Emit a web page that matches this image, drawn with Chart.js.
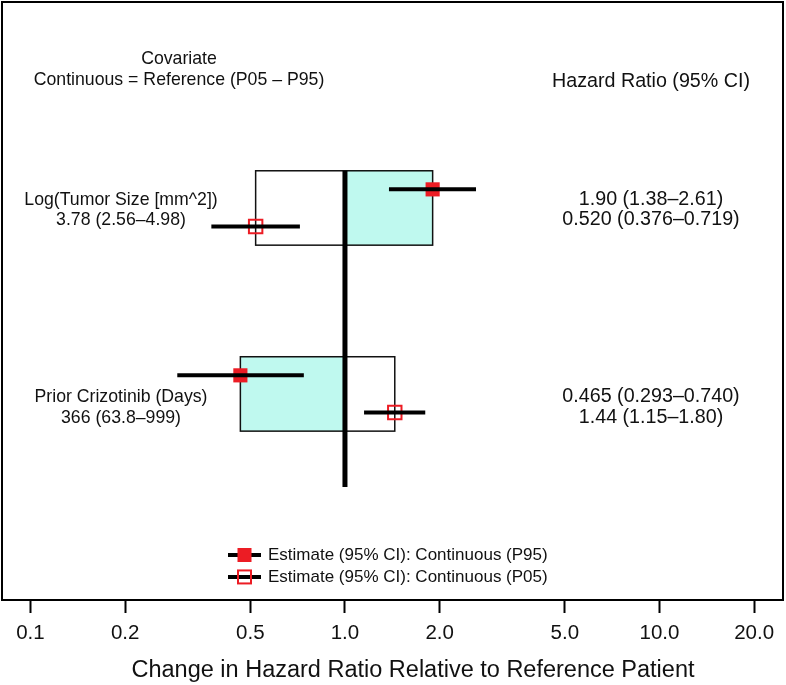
<!DOCTYPE html>
<html>
<head>
<meta charset="utf-8">
<script src="https://cdn.jsdelivr.net/npm/chart.js@4.4.1/dist/chart.umd.min.js"></script>
<style>
  html, body { margin: 0; padding: 0; background: #fff; }
  #wrap { width: 786px; height: 685px; }
</style>
</head>
<body>
<div id="wrap"><canvas id="forest" width="786" height="685"></canvas></div>
<script>
// forest plot: hazard ratio change, P95 vs P05 of each continuous covariate

const covariates = ["Log(Tumor Size [mm^2])", "Prior Crizotinib (Days)"];
const referenceText = ["3.78 (2.56\u20134.98)", "366 (63.8\u2013999)"];
const rows = [1, 2];

const p95Est = [1.90, 0.465];
const p95Lo = [1.38, 0.293];
const p95Hi = [2.61, 0.740];

const p05Est = [0.520, 1.44];
const p05Lo = [0.376, 1.15];
const p05Hi = [0.719, 1.80];

const xTicks = [0.1, 0.2, 0.5, 1, 2, 5, 10, 20];

const legendLabels = [
  "Estimate (95% CI): Continuous (P95)",
  "Estimate (95% CI): Continuous (P05)",
];

// layout (y in row units)
const FONT = "'Liberation Sans', Arial, sans-serif";
const RED = "#ec1c24";
const CYAN = "#bff9ef";
const offP95 = -0.1, offP05 = 0.1, boxHalf = 0.2;
const labelDy = [[-0.043, 0.065], [0.016, 0.129]];

function fmt(v) { return v.toPrecision(3); }

function ciLine(lo, hi, y) {
  return {
    type: "line",
    data: [{ x: lo, y: y }, { x: hi, y: y }],
    borderColor: "#000",
    borderWidth: 4,
    pointRadius: 0,
    borderCapStyle: "butt",
  };
}

const datasets = [
  {
    type: "line",
    data: [{ x: 1, y: 0.8 }, { x: 1, y: 2.5 }],
    borderColor: "#000",
    borderWidth: 5,
    pointRadius: 0,
    borderCapStyle: "butt",
  },
  ...rows.map((r, i) => ciLine(p95Lo[i], p95Hi[i], r + offP95)),
  ...rows.map((r, i) => ciLine(p05Lo[i], p05Hi[i], r + offP05)),
  {
    type: "scatter",
    data: rows.map((r, i) => ({ x: p95Est[i], y: r + offP95 })),
    pointStyle: "rect",
    pointRadius: 10,
    backgroundColor: RED,
    borderWidth: 0,
  },
  {
    type: "scatter",
    data: rows.map((r, i) => ({ x: p05Est[i], y: r + offP05 })),
    pointStyle: "rect",
    pointRadius: 9.5,
    backgroundColor: "rgba(0,0,0,0)",
    borderColor: RED,
    borderWidth: 2,
  },
];

const forestPlugin = {
  id: "forest",
  beforeDatasetsDraw(chart) {
    const { ctx, scales: { x, y } } = chart;
    ctx.save();
    rows.forEach((r, i) => {
      const top = y.getPixelForValue(r - boxHalf);
      const bot = y.getPixelForValue(r + boxHalf);
      const x1 = x.getPixelForValue(1);
      const x95 = x.getPixelForValue(p95Est[i]);
      const x05 = x.getPixelForValue(p05Est[i]);
      ctx.fillStyle = CYAN;
      ctx.fillRect(Math.min(x1, x95), top, Math.abs(x95 - x1), bot - top);
      ctx.strokeStyle = "#111";
      ctx.lineWidth = 1.5;
      const left = Math.min(x95, x05), right = Math.max(x95, x05);
      ctx.strokeRect(left, top, right - left, bot - top);
    });
    ctx.restore();
  },
  afterDraw(chart) {
    const { ctx, chartArea: a, scales: { x, y } } = chart;
    ctx.save();
    // frame
    ctx.strokeStyle = "#000";
    ctx.lineWidth = 2;
    ctx.strokeRect(a.left, a.top, a.right - a.left, a.bottom - a.top);

    ctx.fillStyle = "#111";
    ctx.textBaseline = "middle";
    ctx.textAlign = "center";
    ctx.font = "17.7px " + FONT;
    ctx.fillText("Covariate", 179, y.getPixelForValue(0.199));
    ctx.fillText("Continuous = Reference (P05 \u2013 P95)", 179, y.getPixelForValue(0.312));
    ctx.font = "19.7px " + FONT;
    ctx.fillText("Hazard Ratio (95% CI)", 651, y.getPixelForValue(0.323));

    rows.forEach((r, i) => {
      const [d1, d2] = labelDy[i];
      ctx.font = "17.7px " + FONT;
      ctx.fillText(covariates[i], 121, y.getPixelForValue(r + d1));
      ctx.fillText(referenceText[i], 121, y.getPixelForValue(r + d2));
      ctx.font = "19.7px " + FONT;
      ctx.fillText(fmt(p95Est[i]) + " (" + fmt(p95Lo[i]) + "\u2013" + fmt(p95Hi[i]) + ")", 651, y.getPixelForValue(r + d1));
      ctx.fillText(fmt(p05Est[i]) + " (" + fmt(p05Lo[i]) + "\u2013" + fmt(p05Hi[i]) + ")", 651, y.getPixelForValue(r + d2));
    });

    // legend
    const legY = [2.866, 2.984];
    legendLabels.forEach((lab, i) => {
      const ly = y.getPixelForValue(legY[i]);
      ctx.strokeStyle = "#000";
      ctx.lineWidth = 4;
      ctx.beginPath();
      ctx.moveTo(228, ly);
      ctx.lineTo(261, ly);
      ctx.stroke();
      if (i === 0) {
        ctx.fillStyle = RED;
        ctx.fillRect(237.5, ly - 7, 14, 14);
      } else {
        ctx.strokeStyle = RED;
        ctx.lineWidth = 2;
        ctx.strokeRect(238, ly - 6.5, 13, 13);
      }
      ctx.fillStyle = "#111";
      ctx.textAlign = "left";
      ctx.font = "17px " + FONT;
      ctx.fillText(lab, 268, ly);
    });

    // axis title
    ctx.textAlign = "center";
    ctx.textBaseline = "alphabetic";
    ctx.font = "23.5px " + FONT;
    ctx.fillText("Change in Hazard Ratio Relative to Reference Patient", 413, 677);
    ctx.restore();
  },
};

new Chart(document.getElementById("forest"), {
  data: { datasets: datasets },
  options: {
    responsive: false,
    animation: false,
    layout: { autoPadding: false, padding: { left: 2, right: 3, top: 2, bottom: 0 } },
    plugins: { legend: { display: false }, tooltip: { enabled: false } },
    scales: {
      x: {
        type: "logarithmic",
        min: 0.0812,
        max: 24.7,
        afterBuildTicks(scale) {
          scale.ticks = xTicks.map((v) => ({ value: v }));
        },
        afterFit(scale) { scale.height = 85; },
        border: { display: false },
        grid: {
          drawOnChartArea: false,
          drawTicks: true,
          tickLength: 13,
          tickWidth: 2,
          tickColor: "#000",
        },
        ticks: {
          autoSkip: false,
          maxRotation: 0,
          padding: 8,
          color: "#111",
          font: { family: FONT, size: 20.5 },
          callback: (v) => Number(v).toFixed(1),
        },
      },
      y: {
        type: "linear",
        display: false,
        reverse: true,
        min: -0.1075,
        max: 3.108,
      },
    },
  },
  plugins: [forestPlugin],
});
</script>
</body>
</html>
